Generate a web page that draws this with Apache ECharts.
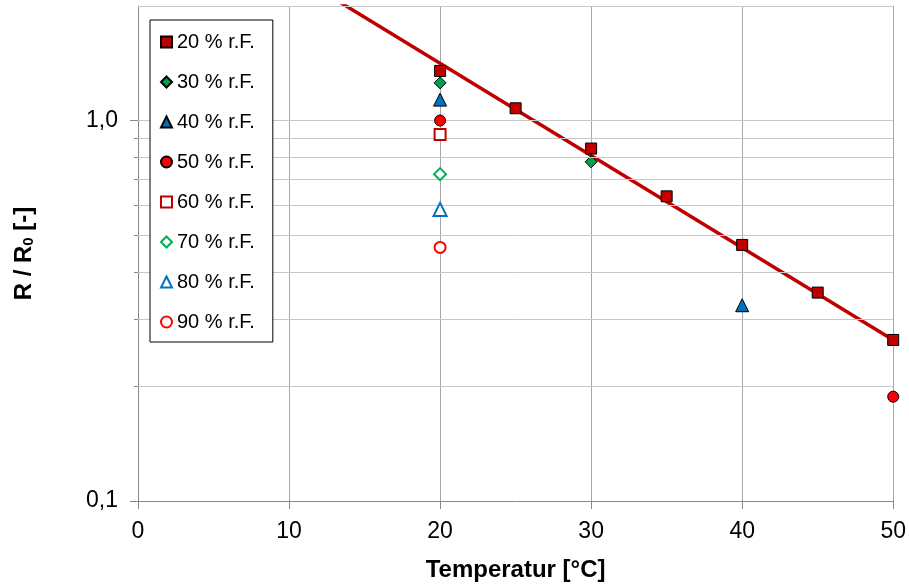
<!DOCTYPE html>
<html>
<head>
<meta charset="utf-8">
<script src="https://cdn.jsdelivr.net/npm/echarts@6/dist/echarts.min.js"></script>
<style>
html,body{margin:0;padding:0;background:#fff;}
#c{width:909px;height:587px;}
</style>
</head>
<body>
<div id="c"></div>
<script>
// ---- data ----
const seriesNames = ['20 % r.F.', '30 % r.F.', '40 % r.F.', '50 % r.F.', '60 % r.F.', '70 % r.F.', '80 % r.F.', '90 % r.F.'];
const temp20 = [20, 25, 30, 35, 40, 45, 50];
const r20    = [1.35, 1.077, 0.844, 0.632, 0.471, 0.353, 0.265];
const temp30 = [20, 30];
const r30    = [1.256, 0.779];
const temp40 = [20, 40];
const r40    = [1.135, 0.327];
const temp50 = [20, 50];
const r50    = [1.0, 0.188];
const temp60 = [20];
const r60    = [0.919];
const temp70 = [20];
const r70    = [0.723];
const temp80 = [20];
const r80    = [0.584];
const temp90 = [20];
const r90    = [0.464];
// exponential trend line (endpoints, clipped by the plot)
const trendT = [10, 50];
const trendR = [2.47, 0.265];
// axis ticks
const xTicks = [0, 10, 20, 30, 40, 50];
const yMajor = [0.1, 1];
const yMinor = [0.2, 0.3, 0.4, 0.5, 0.6, 0.7, 0.8, 0.9];
const yGridLines = [0.2, 0.3, 0.4, 0.5, 0.6, 0.7, 0.8, 0.9, 1, 2];

const zip = (a, b) => a.map((v, i) => [v, b[i]]);

const styles = [
  {symbol: 'rect', size: 11, color: '#C00000', border: '#000000', bw: 1},
  {symbol: 'diamond', size: 12, color: '#00A050', border: '#000000', bw: 1},
  {symbol: 'triangle', size: 13, color: '#0070C0', border: '#000000', bw: 1},
  {symbol: 'circle', size: 11, color: '#FF0000', border: '#000000', bw: 1},
  {symbol: 'rect', size: 11, color: '#FFFFFF', border: '#C00000', bw: 2},
  {symbol: 'diamond', size: 12, color: '#FFFFFF', border: '#00B050', bw: 2},
  {symbol: 'triangle', size: 13, color: '#FFFFFF', border: '#0070C0', bw: 2},
  {symbol: 'circle', size: 11, color: '#FFFFFF', border: '#FF0000', bw: 2}
];
const dataSets = [zip(temp20, r20), zip(temp30, r30), zip(temp40, r40), zip(temp50, r50),
                  zip(temp60, r60), zip(temp70, r70), zip(temp80, r80), zip(temp90, r90)];

const FONT = 'Liberation Sans, Arial, sans-serif';

const series = [{
  type: 'line',
  name: 'trend',
  data: zip(trendT, trendR),
  symbol: 'none',
  lineStyle: {color: '#C00000', width: 3.5},
  z: 1,
  silent: true,
  clip: true,
  markLine: {
    silent: true,
    symbol: 'none',
    label: {show: false},
    lineStyle: {color: '#C8C8C8', width: 1, type: 'solid'},
    data: yGridLines.map(v => ({yAxis: v}))
  }
}];
dataSets.forEach((d, i) => {
  const s = styles[i];
  series.push({
    type: 'scatter',
    name: seriesNames[i],
    data: d,
    symbol: s.symbol,
    symbolSize: s.size,
    itemStyle: {color: s.color, borderColor: s.border, borderWidth: s.bw, opacity: 1},
    z: 3 + i
  });
});

const chart = echarts.init(document.getElementById('c'), null, {renderer: 'canvas'});
chart.setOption({
  animation: false,
  backgroundColor: '#ffffff',
  grid: {left: 138, right: 12, top: 6, bottom: 84, containLabel: false},
  legend: {
    data: seriesNames.map(n => ({name: n})),
    orient: 'vertical',
    left: 150,
    top: 20,
    z: 50,
    zlevel: 1,
    backgroundColor: '#ffffff',
    borderColor: '#000000',
    borderWidth: 1,
    padding: [12, 18, 10, 10],
    itemGap: 20,
    itemWidth: 11,
    itemHeight: 11,
    textStyle: {fontFamily: FONT, fontSize: 20, color: '#000'},
    selectedMode: false
  },
  xAxis: {
    type: 'value',
    min: 0, max: 50, interval: 10,
    axisLine: {show: true, onZero: false, lineStyle: {color: '#888888', width: 1}},
    axisTick: {show: true, length: 8, inside: false, lineStyle: {color: '#888888'}},
    axisLabel: {fontFamily: FONT, fontSize: 23, color: '#000', margin: 19},
    splitLine: {show: true, lineStyle: {color: '#A6A6A6', width: 1}},
    name: 'Temperatur [°C]',
    nameLocation: 'middle',
    nameGap: 57,
    nameTextStyle: {fontFamily: FONT, fontSize: 24, fontWeight: 'bold', color: '#000'}
  },
  yAxis: [{
    type: 'log',
    logBase: 10,
    min: 0.1, max: 2,
    axisLine: {show: true, onZero: false, lineStyle: {color: '#888888', width: 1}},
    axisTick: {show: true, length: 8, customValues: yMajor, lineStyle: {color: '#888888'}},
    axisLabel: {
      fontFamily: FONT, fontSize: 23, color: '#000', margin: 20,
      customValues: yMajor,
      formatter: v => (Math.abs(v - 1) < 1e-6 ? '1,0' : (Math.abs(v - 0.1) < 1e-6 ? '0,1' : ''))
    },
    splitLine: {show: false},
    minorTick: {show: false},
    name: '{a|R / R}{b|0}{a| [-]}',
    nameLocation: 'middle',
    nameRotate: 90,
    nameGap: 102,
    nameTextStyle: {
      rich: {
        a: {fontFamily: FONT, fontSize: 24, fontWeight: 'bold', color: '#000'},
        b: {fontFamily: FONT, fontSize: 15, fontWeight: 'bold', color: '#000', verticalAlign: 'bottom', padding: [8, 0, 0, 0]}
      }
    }
  }, {
    type: 'log',
    logBase: 10,
    min: 0.1, max: 2,
    position: 'left',
    axisLine: {show: false},
    axisTick: {show: true, length: 4, customValues: yMinor, lineStyle: {color: '#888888'}},
    axisLabel: {show: false},
    splitLine: {show: false}
  }],
  series: series
});
</script>
</body>
</html>
